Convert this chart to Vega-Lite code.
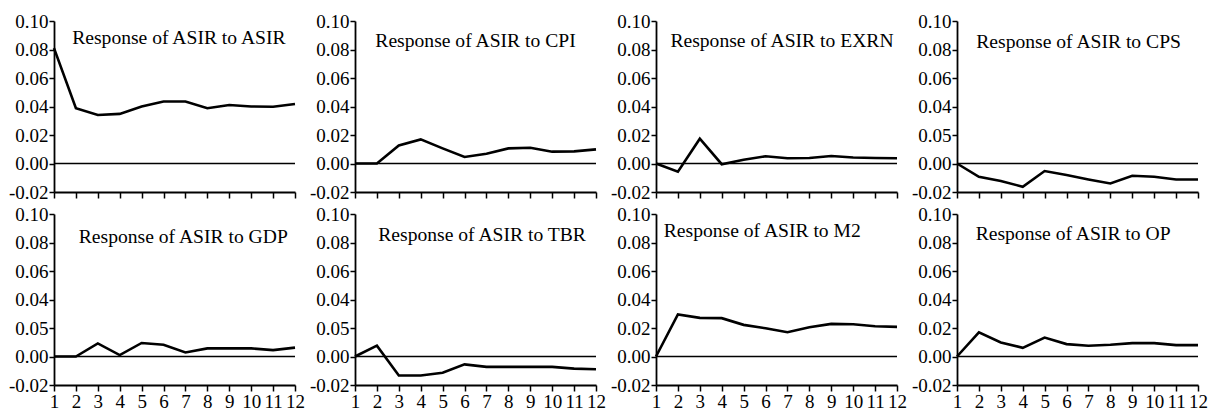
{
 "$schema": "https://vega.github.io/schema/vega-lite/v6.json",
 "padding": {"left": 8, "top": 12, "right": 0, "bottom": 0},
 "autosize": {"type": "pad"},
 "background": "white",
 "spacing": 3,
 "config": {
  "view": {"stroke": null},
  "axis": {"grid": false, "labelFont": "Liberation Serif", "labelFontSize": 19, "labelColor": "black", "domainColor": "black", "tickColor": "black", "domainWidth": 1.8, "tickWidth": 1.5, "title": null, "labelOverlap": false},
  "axisX": {"tickCount": 12},
  "axisY": {"tickCount": 7},
  "text": {"font": "Liberation Serif", "fontSize": 19.6, "color": "black"}
 },
 "resolve": {"scale": {"x": "independent", "y": "independent"}},
 "datasets": {
  "irf": [
   {"panel":"ASIR","h":1,"v":0.081},{"panel":"ASIR","h":2,"v":0.0388},{"panel":"ASIR","h":3,"v":0.034},{"panel":"ASIR","h":4,"v":0.0348},{"panel":"ASIR","h":5,"v":0.040},{"panel":"ASIR","h":6,"v":0.0435},{"panel":"ASIR","h":7,"v":0.0435},{"panel":"ASIR","h":8,"v":0.0388},{"panel":"ASIR","h":9,"v":0.041},{"panel":"ASIR","h":10,"v":0.040},{"panel":"ASIR","h":11,"v":0.0398},{"panel":"ASIR","h":12,"v":0.0417},
   {"panel":"CPI","h":1,"v":0},{"panel":"CPI","h":2,"v":0},{"panel":"CPI","h":3,"v":0.0127},{"panel":"CPI","h":4,"v":0.0169},{"panel":"CPI","h":5,"v":0.0106},{"panel":"CPI","h":6,"v":0.0046},{"panel":"CPI","h":7,"v":0.0069},{"panel":"CPI","h":8,"v":0.0106},{"panel":"CPI","h":9,"v":0.011},{"panel":"CPI","h":10,"v":0.0083},{"panel":"CPI","h":11,"v":0.0085},{"panel":"CPI","h":12,"v":0.0099},
   {"panel":"EXRN","h":1,"v":0},{"panel":"EXRN","h":2,"v":-0.0058},{"panel":"EXRN","h":3,"v":0.0174},{"panel":"EXRN","h":4,"v":-0.0005},{"panel":"EXRN","h":5,"v":0.0026},{"panel":"EXRN","h":6,"v":0.0051},{"panel":"EXRN","h":7,"v":0.0037},{"panel":"EXRN","h":8,"v":0.0039},{"panel":"EXRN","h":9,"v":0.0053},{"panel":"EXRN","h":10,"v":0.0042},{"panel":"EXRN","h":11,"v":0.0039},{"panel":"EXRN","h":12,"v":0.0037},
   {"panel":"CPS","h":1,"v":0},{"panel":"CPS","h":2,"v":-0.0093},{"panel":"CPS","h":3,"v":-0.0123},{"panel":"CPS","h":4,"v":-0.0163},{"panel":"CPS","h":5,"v":-0.0053},{"panel":"CPS","h":6,"v":-0.0081},{"panel":"CPS","h":7,"v":-0.0112},{"panel":"CPS","h":8,"v":-0.014},{"panel":"CPS","h":9,"v":-0.0086},{"panel":"CPS","h":10,"v":-0.0093},{"panel":"CPS","h":11,"v":-0.0112},{"panel":"CPS","h":12,"v":-0.0112},
   {"panel":"GDP","h":1,"v":0},{"panel":"GDP","h":2,"v":0},{"panel":"GDP","h":3,"v":0.0092},{"panel":"GDP","h":4,"v":0.001},{"panel":"GDP","h":5,"v":0.0095},{"panel":"GDP","h":6,"v":0.0083},{"panel":"GDP","h":7,"v":0.0028},{"panel":"GDP","h":8,"v":0.0057},{"panel":"GDP","h":9,"v":0.0057},{"panel":"GDP","h":10,"v":0.0057},{"panel":"GDP","h":11,"v":0.0045},{"panel":"GDP","h":12,"v":0.0062},
   {"panel":"TBR","h":1,"v":0},{"panel":"TBR","h":2,"v":0.0076},{"panel":"TBR","h":3,"v":-0.0133},{"panel":"TBR","h":4,"v":-0.0133},{"panel":"TBR","h":5,"v":-0.0114},{"panel":"TBR","h":6,"v":-0.0055},{"panel":"TBR","h":7,"v":-0.0073},{"panel":"TBR","h":8,"v":-0.0073},{"panel":"TBR","h":9,"v":-0.0073},{"panel":"TBR","h":10,"v":-0.0073},{"panel":"TBR","h":11,"v":-0.0085},{"panel":"TBR","h":12,"v":-0.009},
   {"panel":"M2","h":1,"v":0},{"panel":"M2","h":2,"v":0.0295},{"panel":"M2","h":3,"v":0.0271},{"panel":"M2","h":4,"v":0.0269},{"panel":"M2","h":5,"v":0.0222},{"panel":"M2","h":6,"v":0.0198},{"panel":"M2","h":7,"v":0.017},{"panel":"M2","h":8,"v":0.0205},{"panel":"M2","h":9,"v":0.0229},{"panel":"M2","h":10,"v":0.0226},{"panel":"M2","h":11,"v":0.0212},{"panel":"M2","h":12,"v":0.0208},
   {"panel":"OP","h":1,"v":0},{"panel":"OP","h":2,"v":0.0169},{"panel":"OP","h":3,"v":0.0098},{"panel":"OP","h":4,"v":0.0061},{"panel":"OP","h":5,"v":0.0133},{"panel":"OP","h":6,"v":0.0087},{"panel":"OP","h":7,"v":0.0075},{"panel":"OP","h":8,"v":0.0082},{"panel":"OP","h":9,"v":0.0094},{"panel":"OP","h":10,"v":0.0094},{"panel":"OP","h":11,"v":0.008},{"panel":"OP","h":12,"v":0.008}
  ],
  "titles": [
   {"panel":"ASIR","label":"Response of ASIR to ASIR"},
   {"panel":"CPI","label":"Response of ASIR to CPI"},
   {"panel":"EXRN","label":"Response of ASIR to EXRN"},
   {"panel":"CPS","label":"Response of ASIR to CPS"},
   {"panel":"GDP","label":"Response of ASIR to GDP"},
   {"panel":"TBR","label":"Response of ASIR to TBR"},
   {"panel":"M2","label":"Response of ASIR to M2"},
   {"panel":"OP","label":"Response of ASIR to OP"}
  ]
 },
 "vconcat": [
  {"hconcat": [
   {"width": 241, "height": 171, "layer": [
    {"data": {"name": "titles"}, "transform": [{"filter": "datum.panel === 'ASIR'"}], "mark": {"type": "rule", "color": "black", "strokeWidth": 1.6}, "encoding": {"y": {"datum": 0, "type": "quantitative"}}},
    {"data": {"name": "irf"}, "transform": [{"filter": "datum.panel === 'ASIR'"}], "mark": {"type": "line", "color": "black", "strokeWidth": 2.6},
     "encoding": {
      "x": {"field": "h", "type": "quantitative", "scale": {"domain": [1, 12], "nice": false, "zero": false}, "axis": {"values": [1,2,3,4,5,6,7,8,9,10,11,12], "tickCount": 12, "tickSize": 6, "labels": false}},
      "y": {"field": "v", "type": "quantitative", "scale": {"domain": [-0.02, 0.1], "nice": false}, "axis": {"values": [-0.02,0,0.02,0.04,0.06,0.08,0.1], "tickCount": 7, "format": ".2f", "tickSize": 5, "labelPadding": 1, "labelOverlap": false, "labelFlush": false, "labelExpr": "datum.value < -0.01 ? '-0.02' : datum.label"}}
     }},
    {"data": {"name": "titles"}, "transform": [{"filter": "datum.panel === 'ASIR'"}], "mark": {"type": "text", "align": "center", "baseline": "alphabetic"}, "encoding": {"text": {"field": "label"}, "x": {"datum": 6.7, "type": "quantitative"}, "y": {"datum": 0.084, "type": "quantitative"}}}
   ]},
   {"width": 241, "height": 171, "layer": [
    {"data": {"name": "titles"}, "transform": [{"filter": "datum.panel === 'CPI'"}], "mark": {"type": "rule", "color": "black", "strokeWidth": 1.6}, "encoding": {"y": {"datum": 0, "type": "quantitative"}}},
    {"data": {"name": "irf"}, "transform": [{"filter": "datum.panel === 'CPI'"}], "mark": {"type": "line", "color": "black", "strokeWidth": 2.6},
     "encoding": {
      "x": {"field": "h", "type": "quantitative", "scale": {"domain": [1, 12], "nice": false, "zero": false}, "axis": {"values": [1,2,3,4,5,6,7,8,9,10,11,12], "tickCount": 12, "tickSize": 6, "labels": false}},
      "y": {"field": "v", "type": "quantitative", "scale": {"domain": [-0.02, 0.1], "nice": false}, "axis": {"values": [-0.02,0,0.02,0.04,0.06,0.08,0.1], "tickCount": 7, "format": ".2f", "tickSize": 5, "labelPadding": 1, "labelOverlap": false, "labelFlush": false, "labelExpr": "datum.value < -0.01 ? '-0.02' : datum.label"}}
     }},
    {"data": {"name": "titles"}, "transform": [{"filter": "datum.panel === 'CPI'"}], "mark": {"type": "text", "align": "center", "baseline": "alphabetic"}, "encoding": {"text": {"field": "label"}, "x": {"datum": 6.5, "type": "quantitative"}, "y": {"datum": 0.082, "type": "quantitative"}}}
   ]},
   {"width": 241, "height": 171, "layer": [
    {"data": {"name": "titles"}, "transform": [{"filter": "datum.panel === 'EXRN'"}], "mark": {"type": "rule", "color": "black", "strokeWidth": 1.6}, "encoding": {"y": {"datum": 0, "type": "quantitative"}}},
    {"data": {"name": "irf"}, "transform": [{"filter": "datum.panel === 'EXRN'"}], "mark": {"type": "line", "color": "black", "strokeWidth": 2.6},
     "encoding": {
      "x": {"field": "h", "type": "quantitative", "scale": {"domain": [1, 12], "nice": false, "zero": false}, "axis": {"values": [1,2,3,4,5,6,7,8,9,10,11,12], "tickCount": 12, "tickSize": 6, "labels": false}},
      "y": {"field": "v", "type": "quantitative", "scale": {"domain": [-0.02, 0.1], "nice": false}, "axis": {"values": [-0.02,0,0.02,0.04,0.06,0.08,0.1], "tickCount": 7, "format": ".2f", "tickSize": 5, "labelPadding": 1, "labelOverlap": false, "labelFlush": false, "labelExpr": "datum.value < -0.01 ? '-0.02' : datum.label"}}
     }},
    {"data": {"name": "titles"}, "transform": [{"filter": "datum.panel === 'EXRN'"}], "mark": {"type": "text", "align": "center", "baseline": "alphabetic"}, "encoding": {"text": {"field": "label"}, "x": {"datum": 6.75, "type": "quantitative"}, "y": {"datum": 0.082, "type": "quantitative"}}}
   ]},
   {"width": 241, "height": 171, "layer": [
    {"data": {"name": "titles"}, "transform": [{"filter": "datum.panel === 'CPS'"}], "mark": {"type": "rule", "color": "black", "strokeWidth": 1.6}, "encoding": {"y": {"datum": 0, "type": "quantitative"}}},
    {"data": {"name": "irf"}, "transform": [{"filter": "datum.panel === 'CPS'"}], "mark": {"type": "line", "color": "black", "strokeWidth": 2.6},
     "encoding": {
      "x": {"field": "h", "type": "quantitative", "scale": {"domain": [1, 12], "nice": false, "zero": false}, "axis": {"values": [1,2,3,4,5,6,7,8,9,10,11,12], "tickCount": 12, "tickSize": 6, "labels": false}},
      "y": {"field": "v", "type": "quantitative", "scale": {"domain": [-0.02, 0.1], "nice": false}, "axis": {"values": [-0.02,0,0.02,0.04,0.06,0.08,0.1], "tickCount": 7, "format": ".2f", "tickSize": 5, "labelPadding": 1, "labelOverlap": false, "labelFlush": false, "labelExpr": "datum.value < -0.01 ? '-0.02' : (datum.value > 0.01 && datum.value < 0.03 ? '0.05' : datum.label)"}}
     }},
    {"data": {"name": "titles"}, "transform": [{"filter": "datum.panel === 'CPS'"}], "mark": {"type": "text", "align": "center", "baseline": "alphabetic"}, "encoding": {"text": {"field": "label"}, "x": {"datum": 6.55, "type": "quantitative"}, "y": {"datum": 0.081, "type": "quantitative"}}}
   ]}
  ], "spacing": 60, "bounds": "flush", "resolve": {"scale": {"x": "independent", "y": "independent"}}},
  {"hconcat": [
   {"width": 241, "height": 171, "layer": [
    {"data": {"name": "titles"}, "transform": [{"filter": "datum.panel === 'GDP'"}], "mark": {"type": "rule", "color": "black", "strokeWidth": 1.6}, "encoding": {"y": {"datum": 0, "type": "quantitative"}}},
    {"data": {"name": "irf"}, "transform": [{"filter": "datum.panel === 'GDP'"}], "mark": {"type": "line", "color": "black", "strokeWidth": 2.6},
     "encoding": {
      "x": {"field": "h", "type": "quantitative", "scale": {"domain": [1, 12], "nice": false, "zero": false}, "axis": {"values": [1,2,3,4,5,6,7,8,9,10,11,12], "tickCount": 12, "tickSize": 6, "labelPadding": 1, "labelFlush": false, "labelOverlap": false, "labelBound": false}},
      "y": {"field": "v", "type": "quantitative", "scale": {"domain": [-0.02, 0.1], "nice": false}, "axis": {"values": [-0.02,0,0.02,0.04,0.06,0.08,0.1], "tickCount": 7, "format": ".2f", "tickSize": 5, "labelPadding": 1, "labelOverlap": false, "labelFlush": false, "labelExpr": "datum.value < -0.01 ? '-0.02' : (datum.value > 0.01 && datum.value < 0.03 ? '0.05' : datum.label)"}}
     }},
    {"data": {"name": "titles"}, "transform": [{"filter": "datum.panel === 'GDP'"}], "mark": {"type": "text", "align": "center", "baseline": "alphabetic"}, "encoding": {"text": {"field": "label"}, "x": {"datum": 6.9, "type": "quantitative"}, "y": {"datum": 0.080, "type": "quantitative"}}}
   ]},
   {"width": 241, "height": 171, "layer": [
    {"data": {"name": "titles"}, "transform": [{"filter": "datum.panel === 'TBR'"}], "mark": {"type": "rule", "color": "black", "strokeWidth": 1.6}, "encoding": {"y": {"datum": 0, "type": "quantitative"}}},
    {"data": {"name": "irf"}, "transform": [{"filter": "datum.panel === 'TBR'"}], "mark": {"type": "line", "color": "black", "strokeWidth": 2.6},
     "encoding": {
      "x": {"field": "h", "type": "quantitative", "scale": {"domain": [1, 12], "nice": false, "zero": false}, "axis": {"values": [1,2,3,4,5,6,7,8,9,10,11,12], "tickCount": 12, "tickSize": 6, "labelPadding": 1, "labelFlush": false, "labelOverlap": false, "labelBound": false}},
      "y": {"field": "v", "type": "quantitative", "scale": {"domain": [-0.02, 0.1], "nice": false}, "axis": {"values": [-0.02,0,0.02,0.04,0.06,0.08,0.1], "tickCount": 7, "format": ".2f", "tickSize": 5, "labelPadding": 1, "labelOverlap": false, "labelFlush": false, "labelExpr": "datum.value < -0.01 ? '-0.02' : (datum.value > 0.01 && datum.value < 0.03 ? '0.05' : datum.label)"}}
     }},
    {"data": {"name": "titles"}, "transform": [{"filter": "datum.panel === 'TBR'"}], "mark": {"type": "text", "align": "center", "baseline": "alphabetic"}, "encoding": {"text": {"field": "label"}, "x": {"datum": 6.8, "type": "quantitative"}, "y": {"datum": 0.081, "type": "quantitative"}}}
   ]},
   {"width": 241, "height": 171, "layer": [
    {"data": {"name": "titles"}, "transform": [{"filter": "datum.panel === 'M2'"}], "mark": {"type": "rule", "color": "black", "strokeWidth": 1.6}, "encoding": {"y": {"datum": 0, "type": "quantitative"}}},
    {"data": {"name": "irf"}, "transform": [{"filter": "datum.panel === 'M2'"}], "mark": {"type": "line", "color": "black", "strokeWidth": 2.6},
     "encoding": {
      "x": {"field": "h", "type": "quantitative", "scale": {"domain": [1, 12], "nice": false, "zero": false}, "axis": {"values": [1,2,3,4,5,6,7,8,9,10,11,12], "tickCount": 12, "tickSize": 6, "labelPadding": 1, "labelFlush": false, "labelOverlap": false, "labelBound": false}},
      "y": {"field": "v", "type": "quantitative", "scale": {"domain": [-0.02, 0.1], "nice": false}, "axis": {"values": [-0.02,0,0.02,0.04,0.06,0.08,0.1], "tickCount": 7, "format": ".2f", "tickSize": 5, "labelPadding": 1, "labelOverlap": false, "labelFlush": false, "labelExpr": "datum.value < -0.01 ? '-0.02' : datum.label"}}
     }},
    {"data": {"name": "titles"}, "transform": [{"filter": "datum.panel === 'M2'"}], "mark": {"type": "text", "align": "center", "baseline": "alphabetic"}, "encoding": {"text": {"field": "label"}, "x": {"datum": 5.85, "type": "quantitative"}, "y": {"datum": 0.084, "type": "quantitative"}}}
   ]},
   {"width": 241, "height": 171, "layer": [
    {"data": {"name": "titles"}, "transform": [{"filter": "datum.panel === 'OP'"}], "mark": {"type": "rule", "color": "black", "strokeWidth": 1.6}, "encoding": {"y": {"datum": 0, "type": "quantitative"}}},
    {"data": {"name": "irf"}, "transform": [{"filter": "datum.panel === 'OP'"}], "mark": {"type": "line", "color": "black", "strokeWidth": 2.6},
     "encoding": {
      "x": {"field": "h", "type": "quantitative", "scale": {"domain": [1, 12], "nice": false, "zero": false}, "axis": {"values": [1,2,3,4,5,6,7,8,9,10,11,12], "tickCount": 12, "tickSize": 6, "labelPadding": 1, "labelFlush": false, "labelOverlap": false, "labelBound": false}},
      "y": {"field": "v", "type": "quantitative", "scale": {"domain": [-0.02, 0.1], "nice": false}, "axis": {"values": [-0.02,0,0.02,0.04,0.06,0.08,0.1], "tickCount": 7, "format": ".2f", "tickSize": 5, "labelPadding": 1, "labelOverlap": false, "labelFlush": false, "labelExpr": "datum.value < -0.01 ? '-0.02' : datum.label"}}
     }},
    {"data": {"name": "titles"}, "transform": [{"filter": "datum.panel === 'OP'"}], "mark": {"type": "text", "align": "center", "baseline": "alphabetic"}, "encoding": {"text": {"field": "label"}, "x": {"datum": 6.3, "type": "quantitative"}, "y": {"datum": 0.082, "type": "quantitative"}}}
   ]}
  ], "spacing": 60, "bounds": "flush", "resolve": {"scale": {"x": "independent", "y": "independent"}}}
 ]
}
